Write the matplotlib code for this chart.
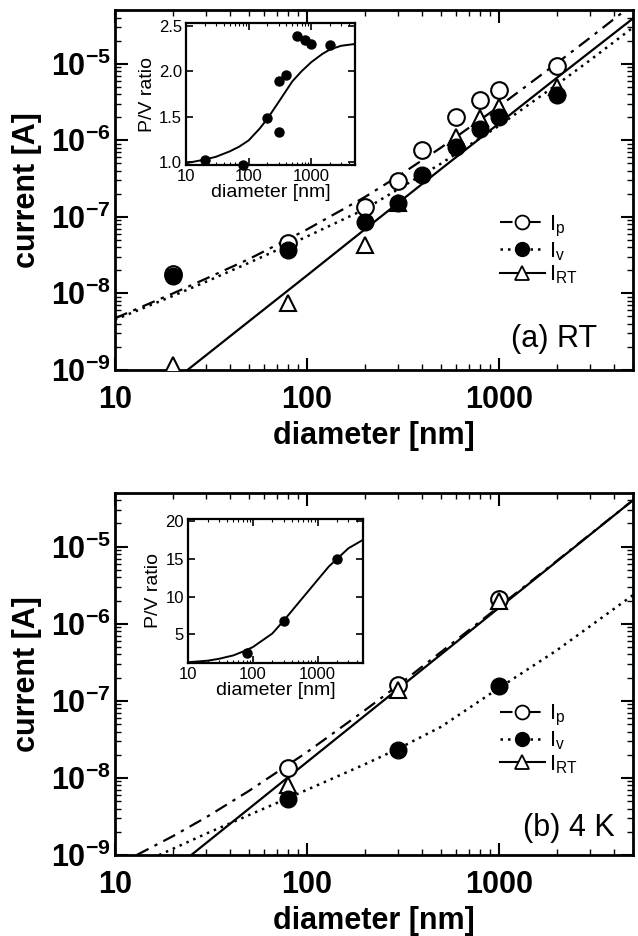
import numpy as np
import matplotlib
matplotlib.use('Agg')
from matplotlib import pyplot as plt
from matplotlib.ticker import NullFormatter, LogLocator

plt.rcParams['font.family'] = ['Liberation Sans', 'DejaVu Sans']
plt.rcParams['mathtext.fontset'] = 'custom'
plt.rcParams['mathtext.rm'] = 'Liberation Sans'
plt.rcParams['mathtext.bf'] = 'Liberation Sans:bold'
plt.rcParams['mathtext.it'] = 'Liberation Sans:italic'

# ---- panel (a) RT : measured currents ----
diam_a = [20, 80, 200, 300, 400, 600, 800, 1000, 2000]
ip_a = [1.8e-8, 4.5e-8, 1.33e-7, 2.9e-7, 7.4e-7, 2.0e-6, 3.35e-6, 4.6e-6, 9.3e-6]
iv_a = [1.7e-8, 3.7e-8, 8.6e-8, 1.5e-7, 3.5e-7, 8.2e-7, 1.39e-6, 2.0e-6, 3.9e-6]
diam_rt_a = [20, 80, 200, 300, 600, 800, 1000, 2000]
irt_a = [1.16e-9, 7.4e-9, 4.3e-8, 1.5e-7, 1.1e-6, 1.93e-6, 2.75e-6, 5.0e-6]

# fitted curves (a)
fit_d_a = [10, 20, 30, 50, 100, 200, 300, 500, 1000, 2000, 3000, 5000]
ip_fit_a = [4.7e-9, 9.9e-9, 1.56e-8, 2.8e-8, 6.8e-8, 1.8e-7, 3.4e-7, 8.0e-7, 2.75e-6, 1.01e-5, 2.2e-5, 6.0e-5]
iv_fit_a = [4.5e-9, 9.2e-9, 1.42e-8, 2.5e-8, 5.5e-8, 1.25e-7, 2.3e-7, 4.95e-7, 1.54e-6, 5.3e-6, 1.12e-5, 2.97e-5]
rt_fit_d_a = [24, 50, 100, 200, 500, 1000, 2000, 5000]
rt_fit_a = [1.0e-9, 4.3e-9, 1.7e-8, 6.8e-8, 4.2e-7, 1.65e-6, 6.5e-6, 3.9e-5]

# inset (a): P/V ratio
pv_d_a = [20, 80, 200, 300, 300, 400, 600, 800, 1000, 2000]
pv_a = [1.02, 0.97, 1.49, 1.89, 1.33, 1.96, 2.39, 2.34, 2.30, 2.29]
pv_fit_d_a = [10, 20, 30, 50, 70, 100, 150, 200, 300, 400, 500, 700, 1000, 1500, 2000, 3000, 5000]
pv_fit_a = [0.99, 1.03, 1.06, 1.12, 1.17, 1.24, 1.37, 1.48, 1.66, 1.79, 1.89, 2.0, 2.10, 2.19, 2.24, 2.28, 2.30]

# ---- panel (b) 4 K ----
diam_b = [80, 300, 1000]
ip_b = [1.36e-8, 1.6e-7, 2.1e-6]
iv_b = [5.3e-9, 2.3e-8, 1.56e-7]
irt_b = [8.1e-9, 1.38e-7, 2.0e-6]

ip_fit_d_b = [13, 20, 30, 50, 100, 200, 300, 500, 1000, 2000, 5000]
ip_fit_b = [1.0e-9, 1.75e-9, 3.1e-9, 6.8e-9, 2.15e-8, 7.5e-8, 1.6e-7, 4.3e-7, 1.66e-6, 6.5e-6, 4.0e-5]
iv_fit_d_b = [17, 20, 30, 50, 100, 200, 300, 500, 1000, 2000, 5000]
iv_fit_b = [1.0e-9, 1.2e-9, 1.9e-9, 3.3e-9, 7.0e-9, 1.5e-8, 2.4e-8, 4.6e-8, 1.46e-7, 4.5e-7, 2.35e-6]
rt_fit_d_b = [25, 50, 100, 200, 500, 1000, 2000, 5000]
rt_fit_b = [1.0e-9, 4.0e-9, 1.6e-8, 6.4e-8, 4.0e-7, 1.6e-6, 6.4e-6, 4.0e-5]

pv_d_b = [80, 300, 2000]
pv_b = [2.5, 6.8, 15.0]
pv_fit_d_b = [10, 20, 30, 50, 70, 100, 200, 300, 500, 700, 1000, 1500, 2000, 3000, 5000]
pv_fit_b = [1.3, 1.5, 1.75, 2.2, 2.7, 3.3, 5.1, 6.8, 9.1, 10.6, 12.2, 14.0, 15.0, 16.4, 17.5]

x_ticks = [10, 100, 1000]
x_ticklabels = ['10', '100', '1000']
y_ticks = [1e-9, 1e-8, 1e-7, 1e-6, 1e-5]
y_ticklabels = [r'$\mathbf{10^{-9}}$', r'$\mathbf{10^{-8}}$', r'$\mathbf{10^{-7}}$',
                r'$\mathbf{10^{-6}}$', r'$\mathbf{10^{-5}}$']
inset_yticks_a = [1.0, 1.5, 2.0, 2.5]
inset_yticks_b = [5, 10, 15, 20]

DASHDOT = (0, (6, 3, 1.5, 3))
DOTTED = (0, (1, 2))


def main_panel(ax, fits, pts, tag, leg_anchor, tag_pos):
    (fd1, f1), (fd2, f2), (fd3, f3) = fits
    ax.plot(fd1, f1, color='k', ls=DASHDOT, lw=1.6)
    ax.plot(fd2, f2, color='k', ls=DOTTED, lw=1.8)
    ax.plot(fd3, f3, color='k', ls='-', lw=1.6)
    (d1, p1), (d2, p2), (d3, p3) = pts
    ax.plot(d1, p1, 'o', ms=12, mfc='white', mec='k', mew=1.5, zorder=3)
    ax.plot(d3, p3, '^', ms=12, mfc='white', mec='k', mew=1.5, zorder=4)
    ax.plot(d2, p2, 'o', ms=12, mfc='k', mec='k', zorder=5)
    # legend handles
    h1, = ax.plot([], [], color='k', ls=DASHDOT, lw=1.5, marker='o', ms=10, mfc='white', mew=1.3)
    h2, = ax.plot([], [], color='k', ls=DOTTED, lw=1.8, marker='o', ms=10, mfc='k')
    h3, = ax.plot([], [], color='k', ls='-', lw=1.5, marker='^', ms=10, mfc='white', mew=1.3)
    ax.legend([h1, h2, h3], ['I$_\\mathrm{p}$', 'I$_\\mathrm{v}$', 'I$_\\mathrm{RT}$'],
              loc='upper right', bbox_to_anchor=leg_anchor, frameon=False, fontsize=16,
              handlelength=2.0, handletextpad=0.2, labelspacing=0.05, borderpad=0)
    ax.set_xscale('log')
    ax.set_yscale('log')
    ax.set_xlim(10, 5000)
    ax.set_ylim(1e-9, 5e-5)
    ax.set_xticks(x_ticks)
    ax.set_xticklabels(x_ticklabels)
    ax.set_yticks(y_ticks)
    ax.set_yticklabels(y_ticklabels)
    ax.yaxis.set_minor_locator(LogLocator(base=10, subs=np.arange(2, 10)))
    ax.yaxis.set_minor_formatter(NullFormatter())
    ax.xaxis.set_minor_formatter(NullFormatter())
    ax.tick_params(which='both', direction='in', top=True, right=True, labelsize=22)
    ax.tick_params(which='major', length=9, width=1.5)
    ax.tick_params(which='minor', length=4, width=1.0)
    ax.tick_params(axis='x', pad=11)
    ax.tick_params(axis='y', pad=3)
    for lab in ax.get_xticklabels():
        lab.set_fontweight('bold')
    for s in ax.spines.values():
        s.set_linewidth(2)
    ax.set_xlabel('diameter [nm]', fontsize=22, fontweight='bold', labelpad=4)
    ax.set_ylabel('current [A]', fontsize=22, fontweight='bold', labelpad=6)
    ax.text(tag_pos[0], tag_pos[1], tag, transform=ax.transAxes, ha='right', va='center', fontsize=22)


def inset(ax, d, v, fd, fv, ylim, yticks, ylabels):
    ax.plot(fd, fv, color='k', lw=1.4)
    ax.plot(d, v, 'o', ms=6.5, color='k', clip_on=False, zorder=5)
    ax.set_xscale('log')
    ax.set_xlim(10, 5000)
    ax.set_ylim(*ylim)
    ax.set_xticks(x_ticks)
    ax.set_xticklabels(x_ticklabels)
    ax.set_yticks(yticks)
    ax.set_yticklabels(ylabels)
    ax.xaxis.set_minor_formatter(NullFormatter())
    ax.tick_params(which='both', direction='in', top=True, right=True, labelsize=12)
    ax.tick_params(axis='x', pad=3)
    ax.tick_params(axis='y', pad=3)
    ax.tick_params(which='major', length=5, width=1.2)
    ax.tick_params(which='minor', length=2.5, width=0.8)
    for s in ax.spines.values():
        s.set_linewidth(1.6)
    ax.set_xlabel('diameter [nm]', fontsize=14, labelpad=0)
    ax.set_ylabel('P/V ratio', fontsize=14, labelpad=2)


fig = plt.figure(figsize=(6.38, 9.36), dpi=100)

ax_a = fig.add_axes([0.180, 0.605, 0.812, 0.384])
main_panel(ax_a,
           [(fit_d_a, ip_fit_a), (fit_d_a, iv_fit_a), (rt_fit_d_a, rt_fit_a)],
           [(diam_a, ip_a), (diam_a, iv_a), (diam_rt_a, irt_a)],
           '(a) RT', (0.915, 0.465), (0.93, 0.085))

ax_b = fig.add_axes([0.180, 0.0865, 0.812, 0.387])
main_panel(ax_b,
           [(ip_fit_d_b, ip_fit_b), (iv_fit_d_b, iv_fit_b), (rt_fit_d_b, rt_fit_b)],
           [(diam_b, ip_b), (diam_b, iv_b), (diam_b, irt_b)],
           '(b) 4 K', (0.915, 0.45), (0.965, 0.074))

ins_a = fig.add_axes([0.2915, 0.8237, 0.265, 0.1517])
inset(ins_a, pv_d_a, pv_a, pv_fit_d_a, pv_fit_a, (0.97, 2.53),
      inset_yticks_a, ['1.0', '1.5', '2.0', '2.5'])

ins_b = fig.add_axes([0.2947, 0.2917, 0.274, 0.154])
inset(ins_b, pv_d_b, pv_b, pv_fit_d_b, pv_fit_b, (1.2, 20.3),
      inset_yticks_b, ['5', '10', '15', '20'])

fig.savefig('out.png', dpi=100)
